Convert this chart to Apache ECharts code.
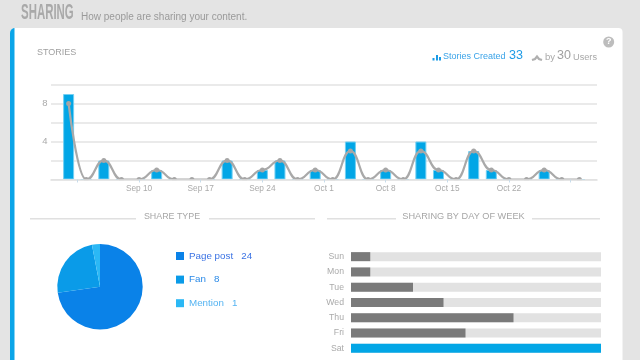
<!DOCTYPE html>
<html><head><meta charset="utf-8">
<script src="https://cdn.jsdelivr.net/npm/echarts@6/dist/echarts.min.js"></script>
<style>html,body{margin:0;padding:0;background:#e4e4e4;overflow:hidden}#c{width:640px;height:360px}</style>
</head><body><div id="c"></div>
<script>
// x values are days counted from Aug 31 (Sep 10 = 10, Oct 1 = 31)
const storyDays = [2,4,6,8,10,12,14,16,18,20,22,24,26,28,30,32,34,36,38,40,42,44,46,48,50,52,54,56,58,60];
const storiesCreated = [9,0,2,0,0,1,0,0,0,2,0,1,2,0,1,0,4,0,1,0,4,1,0,3,1,0,0,1,0,0];
const storyUsers = [8,0,2,0,0,1,0,0,0,2,0,1,2,0,1,0,3,0,1,0,3,1,0,3,1,0,0,1,0,0];
const tickDays = [3,10,17,24,31,38,45,52,59];
const tickLabels = ['','Sep 10','Sep 17','Sep 24','Oct 1','Oct 8','Oct 15','Oct 22',''];
const yLabels = {4:'4',8:'8'};
const shareTypes = ['Page post','Fan','Mention'];
const shareValues = [24,8,1];
const shareColors = ['#0a82e8','#0a9be8','#2bb8f5'];
const shareTextColors = ['#3b73e4','#2a8ae8','#55b4f2'];
const days = ['Sun','Mon','Tue','Wed','Thu','Fri','Sat'];
const dayShare = [7.7,7.7,24.8,37,65,45.8,100];

const font = '"Liberation Sans",Helvetica,Arial,sans-serif';
const txt = (x,y,text,size,fill,extra) => ({type:'text',x,y,z:5,style:Object.assign({text,font:size+'px '+font,fill,textVerticalAlign:'middle'},extra||{})});
const rect = (x,y,w,h,fill,r,z) => ({type:'rect',z:z==null?5:z,shape:{x,y,width:w,height:h,r:r||0},style:{fill}});
const line = (x1,x2,y) => ({type:'rect',z:1,shape:{x:x1,y:y,width:x2-x1,height:1.5},style:{fill:'#e0e0e0'}});

const chart = echarts.init(document.getElementById('c'));
chart.setOption({
  animation:false,
  backgroundColor:'#e4e4e4',
  graphic:{elements:[
    rect(10,28,20,340,'#0ba5e8',[5,0,0,0],-3),
    rect(14.5,28,608,340,'#ffffff',[0,4,0,0],-2),
    rect(51,180.2,546,5,'#ffffff',0,5),
    Object.assign(txt(21,12.5,'SHARING',22,'#a9a9a9',{font:'bold 22px '+font}),{scaleX:0.52}),
    txt(81,17,'How people are sharing your content.',10,'#9a9a9a'),
    txt(37,53,'STORIES',9,'#a0a0a0'),
    rect(432.5,58,2,2.5,'#1a9be6'),rect(436,55,2,5.5,'#1a9be6'),rect(439,57,2,3.5,'#1a9be6'),
    txt(443,57,'Stories Created',9,'#3aa3e8'),
    txt(509,56,'33',12.5,'#1e9be6'),
    {type:'polyline',z:5,shape:{points:[[532,60],[535,59],[537,56.5],[539,59],[542,60]]},style:{stroke:'#b0b0b0',fill:'none',lineWidth:2.2}},
    txt(545,57,'by',9.5,'#a8a8a8'),
    txt(557,56,'30',12.5,'#a0a0a0'),
    txt(573,57,'Users',9.2,'#a8a8a8'),
    {type:'circle',z:5,shape:{cx:608.7,cy:42,r:5.5},style:{fill:'#bdbdbd'}},
    txt(608.7,42,'?',9,'#ffffff',{font:'bold 9px '+font,textAlign:'center'}),
    line(30,136,218),line(209,315,218),
    txt(172,216.7,'SHARE TYPE',8.9,'#a6a6a6',{textAlign:'center'}),
    line(327,396,218),line(532,600,218),
    txt(463.5,216.7,'SHARING BY DAY OF WEEK',9.2,'#a6a6a6',{textAlign:'center'})
  ]},
  grid:[
    {left:51,right:43,top:84.5,height:95},
    {left:351,width:250,top:249,height:107}
  ],
  xAxis:[
    {type:'value',gridIndex:0,min:0,max:62,z:6,
      axisLine:{show:true,onZero:false,lineStyle:{color:'#dfdfdf',width:1.5}},
      axisTick:{show:true,length:3,customValues:tickDays,lineStyle:{color:'#c8dcea'}},
      axisLabel:{customValues:tickDays.slice(1,8),fontSize:8.3,fontFamily:font,color:'#aaaaaa',margin:5,
        formatter:v=>tickLabels[tickDays.indexOf(+v)]||''},
      splitLine:{show:false}},
    {type:'value',gridIndex:1,min:0,max:100,show:false}
  ],
  yAxis:[
    {type:'value',gridIndex:0,min:0,max:10,interval:2,
      axisLine:{show:false},axisTick:{show:false},
      axisLabel:{fontSize:9.5,fontFamily:font,color:'#aaaaaa',margin:3.5,formatter:v=>yLabels[v]||''},
      splitLine:{lineStyle:{color:'#e3e3e3',width:1.5}}},
    {type:'category',gridIndex:1,inverse:true,data:days,
      axisLine:{show:false},axisTick:{show:false},
      axisLabel:{fontSize:8.7,fontFamily:font,color:'#aaaaaa',margin:7}}
  ],
  legend:{show:true,orient:'vertical',left:171,top:246,itemWidth:8,itemHeight:8,itemGap:13.6,icon:'rect',selectedMode:false,
    data:shareTypes.map((n,i)=>({name:n,textStyle:{color:shareTextColors[i]}})),
    textStyle:{fontSize:9.8,fontFamily:font},
    formatter:n=>n+'   '+shareValues[shareTypes.indexOf(n)]},
  series:[
    {type:'bar',name:'Stories Created',xAxisIndex:0,yAxisIndex:0,barWidth:11,
      data:storyDays.map((d,i)=>[d,storiesCreated[i]]),
      itemStyle:{color:'#02a6e6',borderColor:'#74cff2',borderWidth:1},z:2},
    {type:'line',name:'Users',xAxisIndex:0,yAxisIndex:0,smooth:0.5,smoothMonotone:'x',
      data:storyDays.map((d,i)=>[d,storyUsers[i]]),
      symbol:'circle',symbolSize:5,
      lineStyle:{color:'#a9a9a9',width:2.2},itemStyle:{color:'#a6a6a6'},z:3},
    {type:'pie',center:[100,286.7],radius:[0,42.7],startAngle:90,clockwise:true,
      label:{show:false},labelLine:{show:false},silent:true,
      data:shareTypes.map((n,i)=>({name:n,value:shareValues[i],itemStyle:{color:shareColors[i]}}))},
    {type:'bar',name:'Day of week',xAxisIndex:1,yAxisIndex:1,barWidth:9,
      showBackground:true,backgroundStyle:{color:'#e2e2e2'},
      data:dayShare.map((v,i)=>({value:v,itemStyle:i===6?{color:'#02a6e6'}:{color:'#7a7a7a'}}))}
  ]
});
</script></body></html>
